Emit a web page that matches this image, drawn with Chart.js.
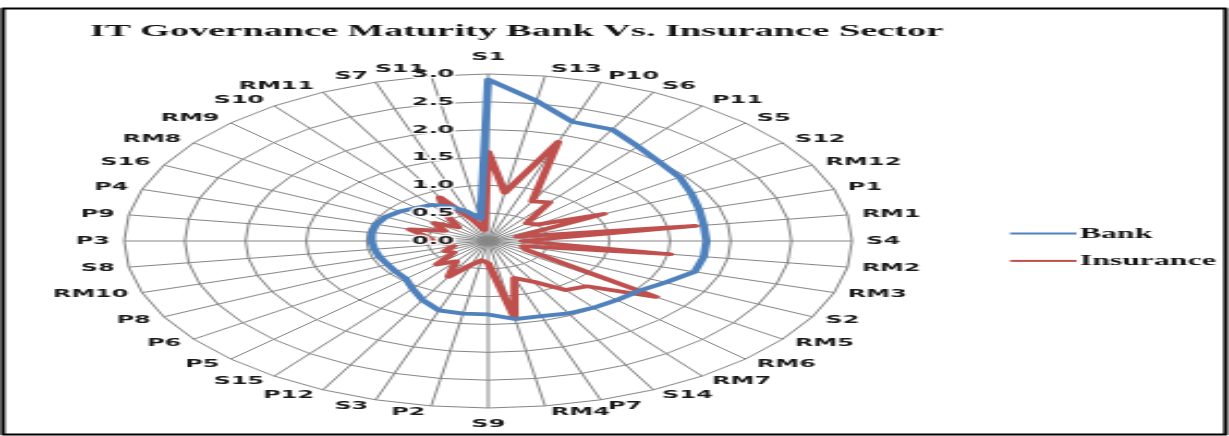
<!DOCTYPE html>
<html>
<head>
<meta charset="utf-8">
<title>IT Governance Maturity Bank Vs. Insurance Sector</title>
<script src="https://cdn.jsdelivr.net/npm/chart.js@4/dist/chart.umd.min.js"></script>
<style>
  html, body { margin: 0; padding: 0; background: #ffffff; overflow: hidden; }
  #wrap { width: 1229px; height: 436px; overflow: hidden; }
  /* the chart is laid out at 564px wide and widened to the full frame */
  #chart { display: block; transform-origin: 0 0; transform: scaleX(2.17908); }
</style>
</head>
<body>
<div id="wrap"><canvas id="chart" width="564" height="436"></canvas></div>
<script>
// Control objectives, clockwise from the top
const categories = ['S1','S13','P10','S6','P11','S5','S12','RM12','P1','RM1',
  'S4','RM2','RM3','S2','RM5','RM6','RM7','S14','P7','RM4',
  'S9','P2','S3','P12','S15','P5','P6','P8','RM10','S8',
  'P3','P9','P4','S16','RM8','RM9','S10','RM11','S7','S11'];

// Maturity scores per sector
const bankScores = [2.9, 2.55, 2.25, 2.25, 2.1, 2.0, 1.95, 1.88, 1.83, 1.8,
  1.8, 1.8, 1.79, 1.64, 1.53, 1.5, 1.48, 1.46, 1.42, 1.42,
  1.32, 1.32, 1.31, 1.19, 1.06, 0.96, 0.94, 0.93, 0.94, 0.95,
  0.96, 0.97, 0.97, 0.95, 0.9, 0.84, 0.8, 0.7, 0.55, 0.4];
const insuranceScores = [1.6, 0.88, 1.87, 0.8, 0.86, 0.45, 0.5, 1.07, 0.25, 1.73,
  0.28, 1.52, 0.3, 0.35, 1.71, 1.15, 1.09, 0.82, 0.7, 1.4,
  0.4, 0.35, 0.45, 0.72, 0.45, 0.6, 0.35, 0.4, 0.3, 0.35,
  0.45, 0.52, 0.68, 0.4, 0.55, 0.35, 0.6, 0.88, 0.4, 0.2];

// Radial axis ticks
const tickValues = [0, 0.5, 1.0, 1.5, 2.0, 2.5, 3.0];
const tickLabels = ['0.0', '0.5', '1.0', '1.5', '2.0', '2.5', '3.0'];

const seriesNames = ['Bank', 'Insurance'];
const seriesColors = ['#4F81BD', '#C0504D'];

const titleText = 'IT Governance Maturity Bank Vs. Insurance Sector';
const labelFont = 'bold 11px "DejaVu Sans", Verdana, sans-serif';
const serifBold = (px) => 'bold ' + px + 'px "Liberation Serif", "Times New Roman", serif';

const decorations = {
  id: 'decorations',
  beforeDraw(chart) {
    const ctx = chart.ctx;
    ctx.save();
    ctx.fillStyle = '#ffffff';
    ctx.fillRect(0, 0, chart.width, chart.height);
    ctx.restore();
  },
  afterDatasetsDraw(chart) {
    const ctx = chart.ctx;
    const r = chart.scales.r;
    ctx.save();

    // value labels along the top spoke
    ctx.font = labelFont;
    ctx.textAlign = 'right';
    ctx.textBaseline = 'middle';
    tickValues.forEach((v, i) => {
      const y = r.yCenter - r.getDistanceFromCenterForValue(v);
      ctx.lineJoin = 'round';
      ctx.lineWidth = 3;
      ctx.strokeStyle = 'rgba(255,255,255,0.85)';
      ctx.strokeText(tickLabels[i], r.xCenter - 15.5, y);
      ctx.fillStyle = '#1a1a1a';
      ctx.fillText(tickLabels[i], r.xCenter - 15.5, y);
    });

    // category labels around the outer ring
    ctx.fillStyle = '#1a1a1a';
    categories.forEach((c, i) => {
      const a = r.getIndexAngle(i);
      const p = r.getPointPosition(i, r.drawingArea);
      const s = Math.sin(a), co = Math.cos(a);
      let x = p.x, y;
      if (Math.abs(s) < 0.01) {
        ctx.textAlign = 'center';
        y = p.y - co * 16.5;
      } else {
        ctx.textAlign = s > 0 ? 'left' : 'right';
        x = p.x + Math.sign(s) * (2 + 4.5 * Math.abs(s));
        y = p.y - co * 6.5;
      }
      ctx.textBaseline = 'middle';
      ctx.fillText(c, x, y);
    });

    // title
    ctx.font = serifBold(17.6);
    ctx.textAlign = 'left';
    ctx.textBaseline = 'middle';
    ctx.fillStyle = '#141414';
    ctx.fillText(titleText, 41.3, 31);

    // legend
    ctx.font = serifBold(14.6);
    seriesNames.forEach((name, i) => {
      const y = 233.5 + i * 27.4;
      ctx.strokeStyle = seriesColors[i];
      ctx.lineWidth = 2;
      ctx.beginPath();
      ctx.moveTo(463.5, y);
      ctx.lineTo(494, y);
      ctx.stroke();
      ctx.fillStyle = '#141414';
      ctx.fillText(name, 495.5, y + 0.5);
    });

    // outer frame
    ctx.strokeStyle = '#000000';
    ctx.lineWidth = 2;
    ctx.strokeRect(1.4, 8.5, 561, 426);
    ctx.restore();
  }
};

new Chart(document.getElementById('chart'), {
  type: 'radar',
  data: {
    labels: categories,
    datasets: [
      { label: seriesNames[0], data: bankScores, borderColor: seriesColors[0] },
      { label: seriesNames[1], data: insuranceScores, borderColor: seriesColors[1] }
    ]
  },
  options: {
    responsive: false,
    animation: false,
    devicePixelRatio: 1,
    layout: { padding: { left: 57, top: 74, right: 173, bottom: 28 } },
    elements: {
      line: { borderWidth: 3.75, tension: 0, fill: false, borderJoinStyle: 'round', borderCapStyle: 'round' },
      point: { radius: 0, hoverRadius: 0 }
    },
    plugins: {
      legend: { display: false },
      title: { display: false },
      tooltip: { enabled: false }
    },
    scales: {
      r: {
        min: 0,
        max: 3,
        startAngle: 0,
        ticks: { stepSize: 0.5, display: false },
        pointLabels: { display: false },
        grid: { color: '#858585', lineWidth: 1 },
        angleLines: { color: '#858585', lineWidth: 1 }
      }
    }
  },
  plugins: [decorations]
});
</script>
</body>
</html>
